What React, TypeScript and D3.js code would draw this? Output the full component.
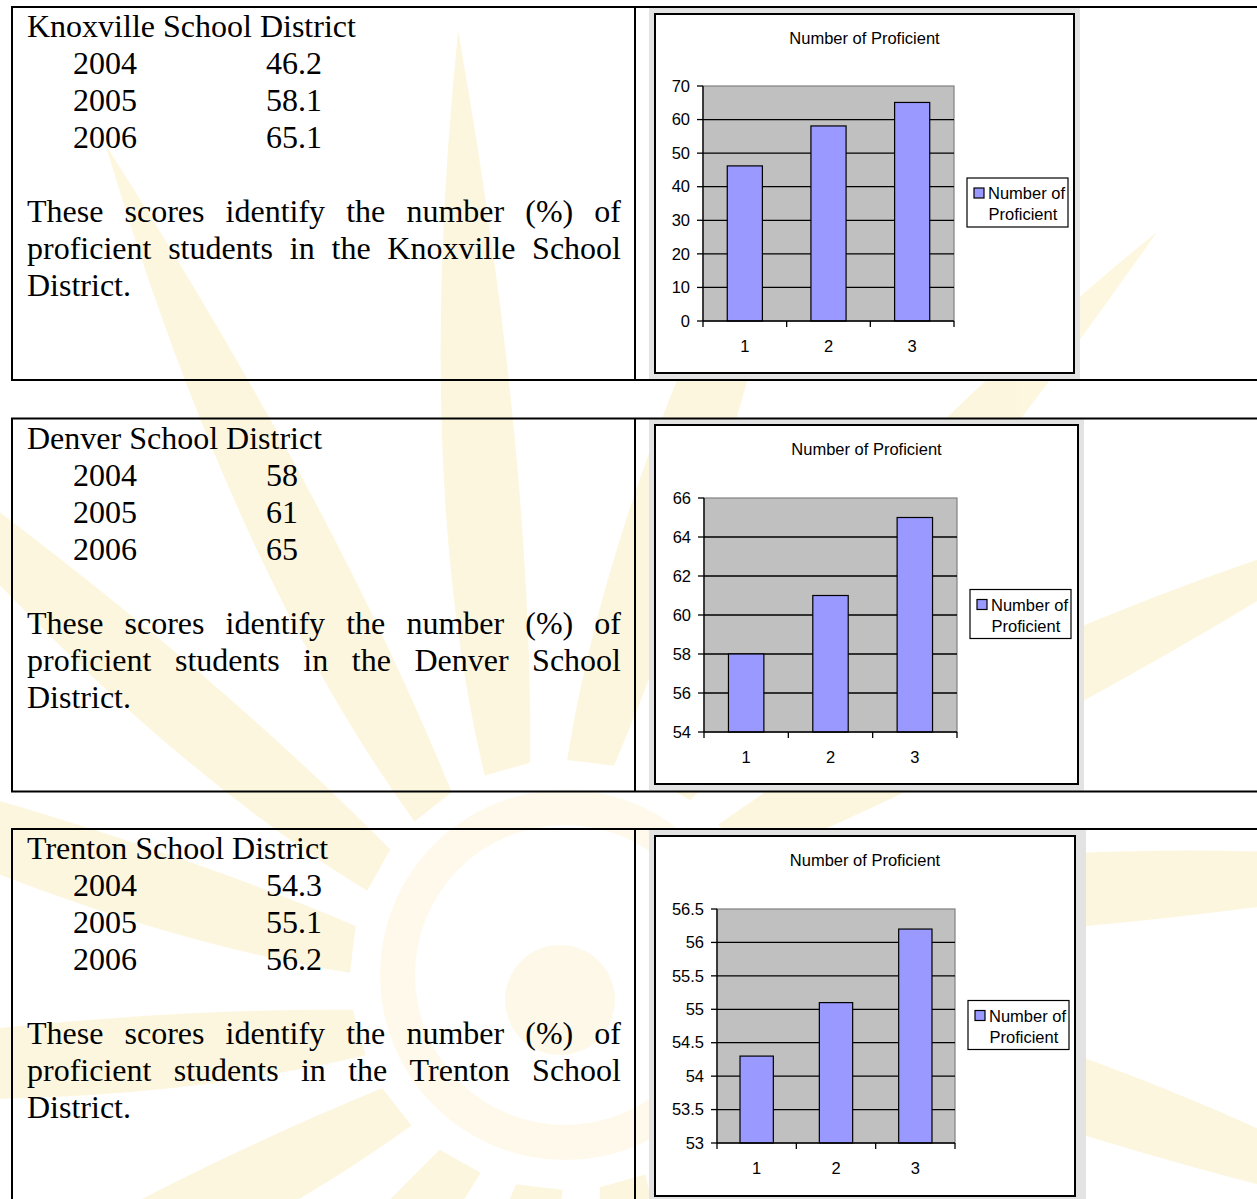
import React from "react";
import * as d3 from "d3";

// ---------- data ----------
const districtTitles = ["Knoxville School District", "Denver School District", "Trenton School District"];
const districtNames = ["Knoxville", "Denver", "Trenton"];
const years = ["2004", "2005", "2006"];
const knoxvilleValues = [46.2, 58.1, 65.1];
const denverValues = [58, 61, 65];
const trentonValues = [54.3, 55.1, 56.2];
const knoxvilleLabels = ["46.2", "58.1", "65.1"];
const denverLabels = ["58", "61", "65"];
const trentonLabels = ["54.3", "55.1", "56.2"];
const categories = ["1", "2", "3"];
const knoxvilleTicks = [0, 10, 20, 30, 40, 50, 60, 70];
const denverTicks = [54, 56, 58, 60, 62, 64, 66];
const trentonTicks = [53, 53.5, 54, 54.5, 55, 55.5, 56, 56.5];
const chartTitle = "Number of Proficient";
const legendLines = ["Number of", "Proficient"];

const seriesValues = [knoxvilleValues, denverValues, trentonValues];
const seriesLabels = [knoxvilleLabels, denverLabels, trentonLabels];
const seriesTicks = [knoxvilleTicks, denverTicks, trentonTicks];

// ---------- layout ----------
const W = 1257;
const H = 1199;
const rowTops = [7, 418.5, 829];
const rowH = 373;
const tableLeft = 12;
const divider = 635;
const textLeft = 27;
const textRight = 621;
const serif = "'Liberation Serif', 'Times New Roman', serif";
const sans = "'Liberation Sans', Arial, sans-serif";
const serifSize = 32;
const lineGap = 37;

const chartBoxes = [
  { gx0: 649, gx1: 1080, bx0: 655, by0: 14, bx1: 1074, by1: 373, px0: 703, py0: 86, px1: 954, py1: 321 },
  { gx0: 649, gx1: 1084, bx0: 655, by0: 425, bx1: 1078, by1: 784, px0: 704, py0: 498, px1: 957, py1: 732 },
  { gx0: 649, gx1: 1086, bx0: 655, by0: 836, bx1: 1075, by1: 1196, px0: 717, py0: 909, px1: 955, py1: 1143 },
];

let measureCtx: CanvasRenderingContext2D | null = null;
function measure(text: string): number {
  if (!measureCtx) {
    const c = document.createElement("canvas");
    measureCtx = c.getContext("2d");
  }
  if (!measureCtx) return text.length * serifSize * 0.45;
  measureCtx.font = `${serifSize}px ${serif}`;
  return measureCtx.measureText(text).width;
}

function JustifiedLine({ text, y, justify }: { text: string; y: number; justify: boolean }) {
  const words = text.split(" ");
  if (!justify || words.length < 2) {
    return (
      <text x={textLeft} y={y} fontFamily={serif} fontSize={serifSize} fill="#000">
        {text}
      </text>
    );
  }
  const widths = words.map(measure);
  const total = d3.sum(widths);
  const gap = (textRight - textLeft - total) / (words.length - 1);
  let x = textLeft;
  return (
    <g>
      {words.map((w, i) => {
        const el = (
          <text key={i} x={x} y={y} fontFamily={serif} fontSize={serifSize} fill="#000">
            {w}
          </text>
        );
        x += widths[i] + gap;
        return el;
      })}
    </g>
  );
}

function TextCell({ idx }: { idx: number }) {
  const top = rowTops[idx];
  const b0 = top + 30.3;
  const para1 = "These scores identify the number (%) of";
  const para2 = `proficient students in the ${districtNames[idx]} School`;
  return (
    <g>
      <text x={textLeft} y={b0} fontFamily={serif} fontSize={serifSize} fill="#000">
        {districtTitles[idx]}
      </text>
      {years.map((yr, i) => (
        <g key={yr}>
          <text x={73} y={b0 + lineGap * (i + 1)} fontFamily={serif} fontSize={serifSize} fill="#000">
            {yr}
          </text>
          <text x={266} y={b0 + lineGap * (i + 1)} fontFamily={serif} fontSize={serifSize} fill="#000">
            {seriesLabels[idx][i]}
          </text>
        </g>
      ))}
      <JustifiedLine text={para1} y={b0 + lineGap * 5} justify />
      <JustifiedLine text={para2} y={b0 + lineGap * 6} justify />
      <JustifiedLine text="District." y={b0 + lineGap * 7} justify={false} />
    </g>
  );
}

function Chart({ idx }: { idx: number }) {
  const L = chartBoxes[idx];
  const rowTop = rowTops[idx];
  const values = seriesValues[idx];
  const ticks = seriesTicks[idx];
  const y = d3.scaleLinear().domain([ticks[0], ticks[ticks.length - 1]]).range([L.py1, L.py0]);
  const x = d3.scaleBand<string>().domain(categories).range([L.px0, L.px1]).padding(0);
  const bw = x.bandwidth() * 0.42;
  const boundaries = [...categories.map((c) => x(c) as number), L.px1];
  const legendTop = (L.py0 + L.py1) / 2 - 25.5;
  const legendLeft = L.px1 + 13;
  const fmt = (v: number) => String(v);
  return (
    <g>
      <rect x={L.gx0} y={rowTop + 1} width={L.gx1 - L.gx0} height={Math.min(rowH - 2, H - rowTop - 1)} fill="#e3e3e3" />
      <rect x={L.bx0} y={L.by0} width={L.bx1 - L.bx0} height={L.by1 - L.by0} fill="#fff" stroke="#000" strokeWidth={2} />
      <text x={(L.bx0 + L.bx1) / 2} y={L.by0 + 29.5} textAnchor="middle" fontFamily={sans} fontSize={16.5} fill="#000">
        {chartTitle}
      </text>
      <rect x={L.px0} y={L.py0} width={L.px1 - L.px0} height={L.py1 - L.py0} fill="#c0c0c0" stroke="#808080" strokeWidth={1.2} />
      {ticks.slice(1, -1).map((t) => (
        <line key={t} x1={L.px0} x2={L.px1} y1={y(t)} y2={y(t)} stroke="#000" strokeWidth={1.3} />
      ))}
      {values.map((v, i) => {
        const cx = (x(categories[i]) as number) + x.bandwidth() / 2;
        return (
          <rect key={i} x={cx - bw / 2} y={y(v)} width={bw} height={L.py1 - y(v)} fill="#9999ff" stroke="#000" strokeWidth={1.2} />
        );
      })}
      <line x1={L.px0} x2={L.px0} y1={L.py0} y2={L.py1} stroke="#000" strokeWidth={1.3} />
      <line x1={L.px0} x2={L.px1} y1={L.py1} y2={L.py1} stroke="#000" strokeWidth={1.3} />
      {ticks.map((t) => (
        <g key={t}>
          <line x1={L.px0 - 6} x2={L.px0} y1={y(t)} y2={y(t)} stroke="#000" strokeWidth={1.3} />
          <text x={L.px0 - 13} y={y(t)} dy="0.35em" textAnchor="end" fontFamily={sans} fontSize={16.5} fill="#000">
            {fmt(t)}
          </text>
        </g>
      ))}
      {boundaries.map((bx, i) => (
        <line key={i} x1={bx} x2={bx} y1={L.py1} y2={L.py1 + 6} stroke="#000" strokeWidth={1.3} />
      ))}
      {categories.map((c) => (
        <text key={c} x={(x(c) as number) + x.bandwidth() / 2} y={L.py1 + 30.5} textAnchor="middle" fontFamily={sans} fontSize={16.5} fill="#000">
          {c}
        </text>
      ))}
      <rect x={legendLeft} y={legendTop} width={101} height={49} fill="#fff" stroke="#000" strokeWidth={1.2} />
      <rect x={legendLeft + 7} y={legendTop + 10} width={10} height={10} fill="#9999ff" stroke="#000" strokeWidth={1.2} />
      <text x={legendLeft + 21} y={legendTop + 21} fontFamily={sans} fontSize={16.5} fill="#000">
        {legendLines[0]}
      </text>
      <text x={legendLeft + 21.5} y={legendTop + 42} fontFamily={sans} fontSize={16.5} fill="#000">
        {legendLines[1]}
      </text>
    </g>
  );
}

function Watermark() {
  const cx = 565;
  const cy = 975;
  const n = 16;
  const p = (r: number, a: number) => [cx + r * Math.cos(a), cy + r * Math.sin(a)];
  const rays = d3.range(n).map((i) => {
    const a = (i / n) * 2 * Math.PI + 0.12;
    const w = 0.11;
    const tw = 0.16;
    const r0 = 215;
    const r1 = 950;
    const [x0, y0] = p(r0, a - w);
    const [x1, y1] = p(r0, a + w);
    const [xt, yt] = p(r1, a + tw);
    const [c1x, c1y] = p(r1 * 0.55, a - w * 0.5 + tw * 0.2);
    const [c2x, c2y] = p(r1 * 0.55, a + w * 0.9 + tw * 0.7);
    return `M${x0},${y0} Q${c1x},${c1y} ${xt},${yt} Q${c2x},${c2y} ${x1},${y1} Z`;
  });
  const ring = d3.arc()({ innerRadius: 150, outerRadius: 185, startAngle: 0, endAngle: 2 * Math.PI }) as string;
  return (
    <g opacity={0.22}>
      {rays.map((d, i) => (
        <path key={i} d={d} fill="#f8d970" />
      ))}
      <path d={ring} transform={`translate(${cx},${cy})`} fill="#f8d970" opacity={0.6} />
      <circle cx={cx - 5} cy={cy + 25} r={55} fill="#f8d970" opacity={0.7} />
    </g>
  );
}

export default function App() {
  return (
    <div style={{ position: "absolute", left: 0, top: 0 }}>
      <svg width={W} height={H} style={{ display: "block" }}>
        <rect x={0} y={0} width={W} height={H} fill="#fff" />
        <Watermark />
        {rowTops.map((top, idx) => (
          <g key={idx}>
            <TextCell idx={idx} />
            <Chart idx={idx} />
            <line x1={tableLeft - 1} x2={W} y1={top} y2={top} stroke="#000" strokeWidth={2} />
            {top + rowH < H && <line x1={tableLeft - 1} x2={W} y1={top + rowH} y2={top + rowH} stroke="#000" strokeWidth={2} />}
            <line x1={tableLeft} x2={tableLeft} y1={top} y2={Math.min(top + rowH, H)} stroke="#000" strokeWidth={2} />
            <line x1={divider} x2={divider} y1={top} y2={Math.min(top + rowH, H)} stroke="#000" strokeWidth={2} />
          </g>
        ))}
      </svg>
    </div>
  );
}
